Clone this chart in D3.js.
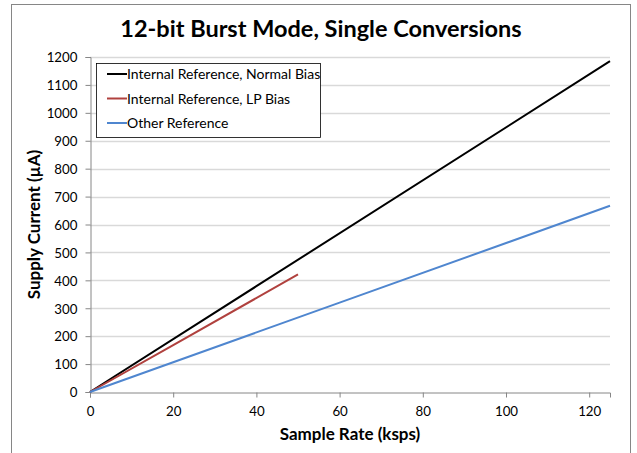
<!DOCTYPE html>
<html lang="en">
<head>
<meta charset="UTF-8">
<title>12-bit Burst Mode, Single Conversions</title>
<script src="https://cdn.jsdelivr.net/npm/d3@7"></script>
<style>
  body { margin: 0; background: #fff; }
  text { font-family: Lato, "Open Sans", sans-serif; fill: #000; }
</style>
</head>
<body>
<script>
// data
const seriesNames = ["Internal Reference, Normal Bias", "Internal Reference, LP Bias", "Other Reference"];
const seriesColors = ["#000000", "#b0413e", "#4f86cf"];
const normalBias = [[0, 0], [40, 379], [125, 1185]];
const lpBias = [[0, 0], [20, 168], [50, 421]];
const otherRef = [[0, 0], [60, 320], [125, 667]];
const xTicks = [0, 20, 40, 60, 80, 100, 120];
const yTicks = d3.range(0, 1201, 100);

const width = 637, height = 453;
const margin = { left: 90, right: 27, top: 57, bottom: 61 };

const svg = d3.select("body").append("svg")
  .attr("width", width)
  .attr("height", height);

// outer frame
svg.append("rect")
  .attr("x", 11.5).attr("y", 4.5)
  .attr("width", 619).attr("height", 460)
  .attr("fill", "#fff")
  .attr("stroke", "#868686");

const x = d3.scaleLinear().domain([0, 125]).range([margin.left, width - margin.right]);
const y = d3.scaleLinear().domain([0, 1200]).range([height - margin.bottom, margin.top]);

// gridlines
svg.append("g")
  .selectAll("line")
  .data(yTicks.filter(d => d > 0))
  .join("line")
  .attr("x1", x(0)).attr("x2", x(125))
  .attr("y1", d => Math.round(y(d)) + 0.5).attr("y2", d => Math.round(y(d)) + 0.5)
  .attr("stroke", "#d9d9d9")
  .attr("stroke-width", 1.3);

// axes
const xAxis = svg.append("g")
  .attr("transform", `translate(0,${Math.round(y(0)) + 0.5})`)
  .call(d3.axisBottom(x).tickValues(xTicks).tickSize(5).tickPadding(9));
const yAxis = svg.append("g")
  .attr("transform", `translate(${Math.round(x(0)) + 0.5},0)`)
  .call(d3.axisLeft(y).tickValues(yTicks).tickFormat(d3.format("d")).tickSize(5).tickPadding(8));

[xAxis, yAxis].forEach(g => {
  g.select(".domain").attr("stroke", "#868686");
  g.selectAll(".tick line").attr("stroke", "#868686");
  g.selectAll(".tick text")
    .style("font-family", "Lato, sans-serif")
    .style("font-size", "13.3px")
    .attr("fill", "#000");
});
yAxis.selectAll(".tick text").attr("dy", "0.36em");

// lines
const line = d3.line().x(d => x(d[0])).y(d => y(d[1]));
[normalBias, lpBias, otherRef].forEach((s, i) => {
  svg.append("path")
    .datum(s)
    .attr("d", line)
    .attr("fill", "none")
    .attr("stroke", seriesColors[i])
    .attr("stroke-width", 2);
});

// title and axis titles
svg.append("text")
  .attr("x", 321).attr("y", 37)
  .attr("text-anchor", "middle")
  .style("font-size", "23.5px")
  .style("font-weight", "bold")
  .text("12-bit Burst Mode, Single Conversions");

svg.append("text")
  .attr("x", 350).attr("y", 440)
  .attr("text-anchor", "middle")
  .style("font-size", "17px")
  .style("font-weight", "bold")
  .text("Sample Rate (ksps)");

svg.append("text")
  .attr("transform", `translate(40,${(y(0) + y(1200)) / 2}) rotate(-90)`)
  .attr("text-anchor", "middle")
  .style("font-size", "17px")
  .style("font-weight", "bold")
  .text("Supply Current (µA)");

// legend
const legend = svg.append("g");
legend.append("rect")
  .attr("x", 96.5).attr("y", 63.5)
  .attr("width", 224).attr("height", 74)
  .attr("fill", "#fff")
  .attr("stroke", "#000")
  .attr("stroke-width", 0.8);

seriesNames.forEach((name, i) => {
  const ly = 74 + i * 24.5;
  legend.append("line")
    .attr("x1", 107).attr("x2", 127)
    .attr("y1", ly).attr("y2", ly)
    .attr("stroke", seriesColors[i])
    .attr("stroke-width", 2);
  legend.append("text")
    .attr("x", 127).attr("y", ly + 5)
    .style("font-size", "14px")
    .text(name);
});
</script>
</body>
</html>
